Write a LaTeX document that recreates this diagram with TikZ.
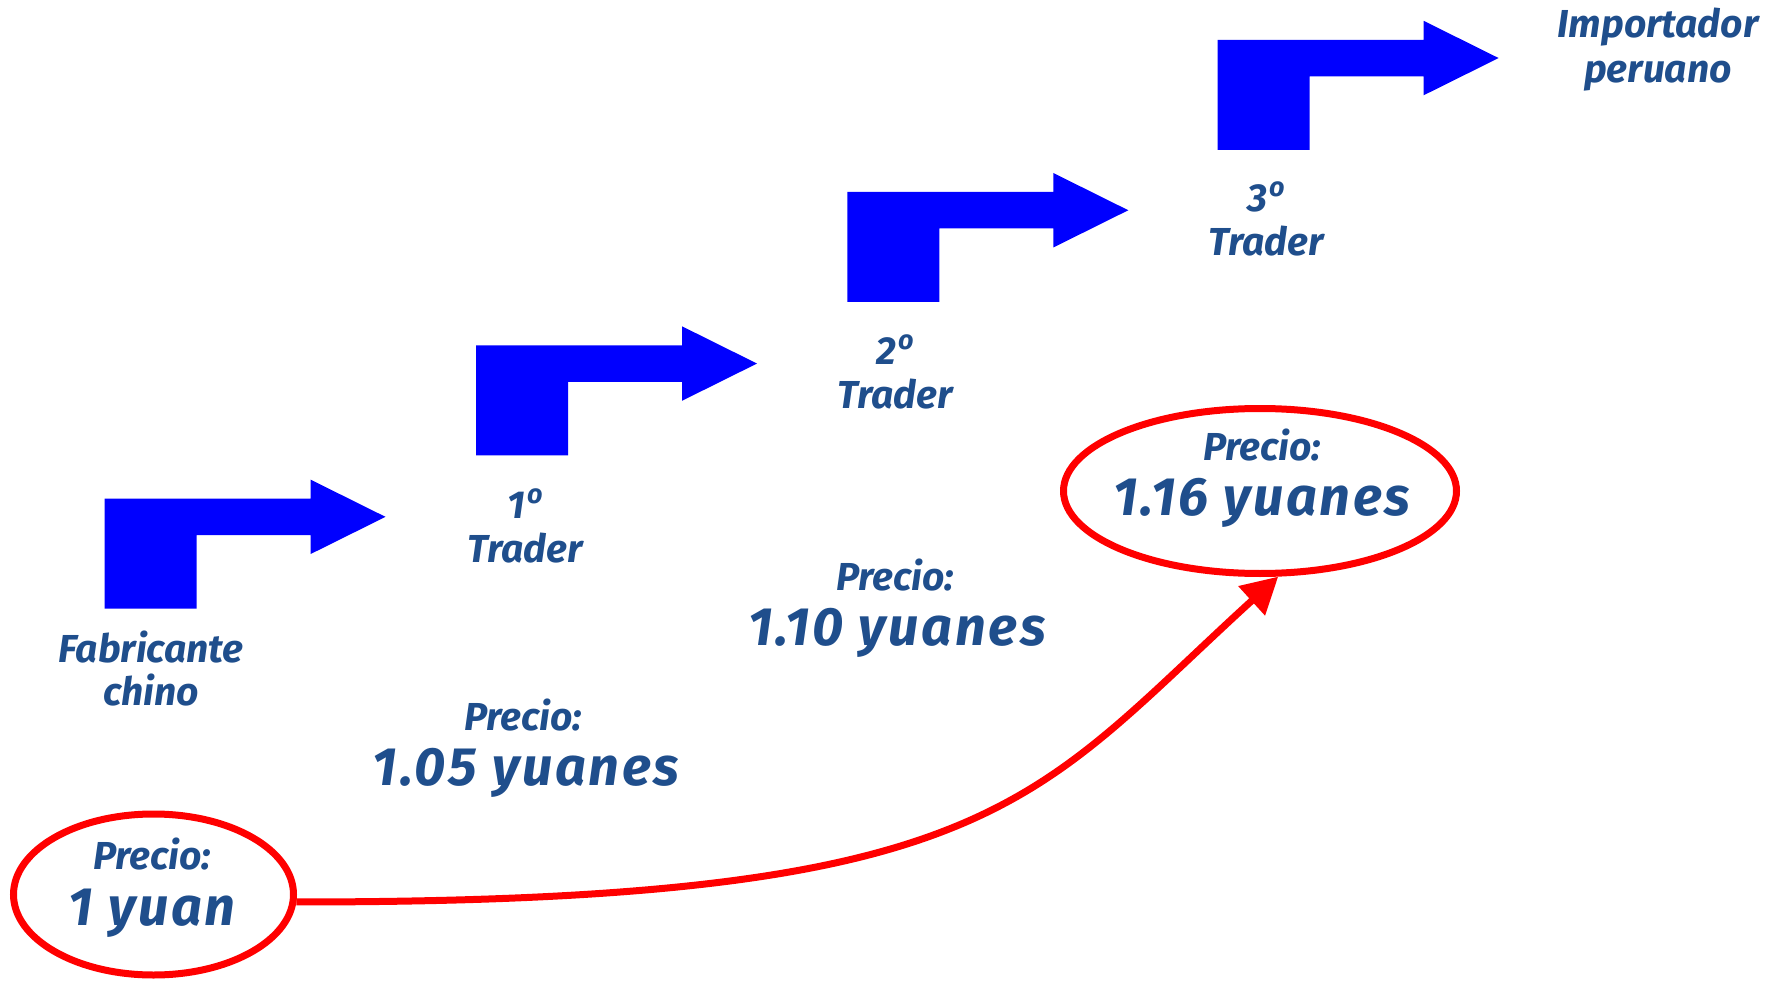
\documentclass[tikz,border=0pt]{standalone}
\usepackage{fontspec}
\setmainfont{Fira Sans}
\newfontfamily\bigfam{Fira Sans}[LetterSpace=5]
\usetikzlibrary{shapes.geometric,arrows.meta}
\definecolor{txtblue}{RGB}{31,78,140}
\definecolor{arrblue}{RGB}{0,0,255}
\definecolor{ovred}{RGB}{255,0,0}
\newcommand{\ordo}{\kern2pt\raisebox{0.38em}{\fontsize{27}{27}\selectfont o}}
\begin{document}
\begin{tikzpicture}[x=1pt,y=-1pt,
  lbl/.style={text=txtblue, font=\fontsize{39}{43}\selectfont\bfseries\itshape, inner sep=0pt, anchor=base},
  big/.style={text=txtblue, font=\bigfam\fontsize{54}{60}\selectfont\bfseries\itshape, inner sep=0pt, anchor=base},
  oval/.style={ellipse, draw=ovred, line width=7pt, inner sep=0pt},
  curve/.style={draw=ovred, line width=7pt, -{Triangle[length=36pt,width=38pt]}},
  bent/.pic={\fill[arrblue] (0,0) -- (206,0) -- (206,-19) -- (281,18.25) -- (206,55.5) -- (206,36.5) -- (92,36.5) -- (92,110) -- (0,110) -- cycle;}
]
\useasboundingbox (0,0) rectangle (1781,984);
\fill[white] (0,0) rectangle (1781,984);

% bent arrows
\pic at (104.5,498.6) {bent};
\pic at (476,345.3) {bent};
\pic at (847.3,192) {bent};
\pic at (1217.6,39.8) {bent};

% labels
\node[lbl] (fab1) at (151,662) {Fabricante};
\node[lbl] (fab2) at (151,705) {chino};
\node[lbl] (t1a) at (525,518) {1\ordo};
\node[lbl] (t1b) at (525,562) {Trader};
\node[lbl] (t2a) at (895,364.7) {2\ordo};
\node[lbl] (t2b) at (895,408.7) {Trader};
\node[lbl] (t3a) at (1266,211.4) {3\ordo};
\node[lbl] (t3b) at (1266,255.4) {Trader};
\node[lbl] (imp1) at (1658,38) {Importador};
\node[lbl] (imp2) at (1658,83) {peruano};

% prices
\node[lbl] (p105a) at (523,730) {Precio:};
\node[big] (p105b) at (526,785) {1.05 yuanes};
\node[lbl] (p110a) at (895,590.3) {Precio:};
\node[big] (p110b) at (897,645.3) {1.10 yuanes};

% ovals
\node[oval, minimum width=280pt, minimum height=161pt] (e1) at (153.5,894.5) {};
\node[lbl] (p1a) at (152,869) {Precio:};
\node[big] (p1b) at (152,925) {1 yuan};
\node[oval, minimum width=393pt, minimum height=165pt] (e2) at (1260,491) {};
\node[lbl] (p116a) at (1262,460) {Precio:};
\node[big] (p116b) at (1262,515) {1.16 yuanes};

% red connector
\draw[curve] (e1.-3) .. controls +(700,0) and +(-250,227.5) .. (e2.-78);
\end{tikzpicture}
\end{document}
